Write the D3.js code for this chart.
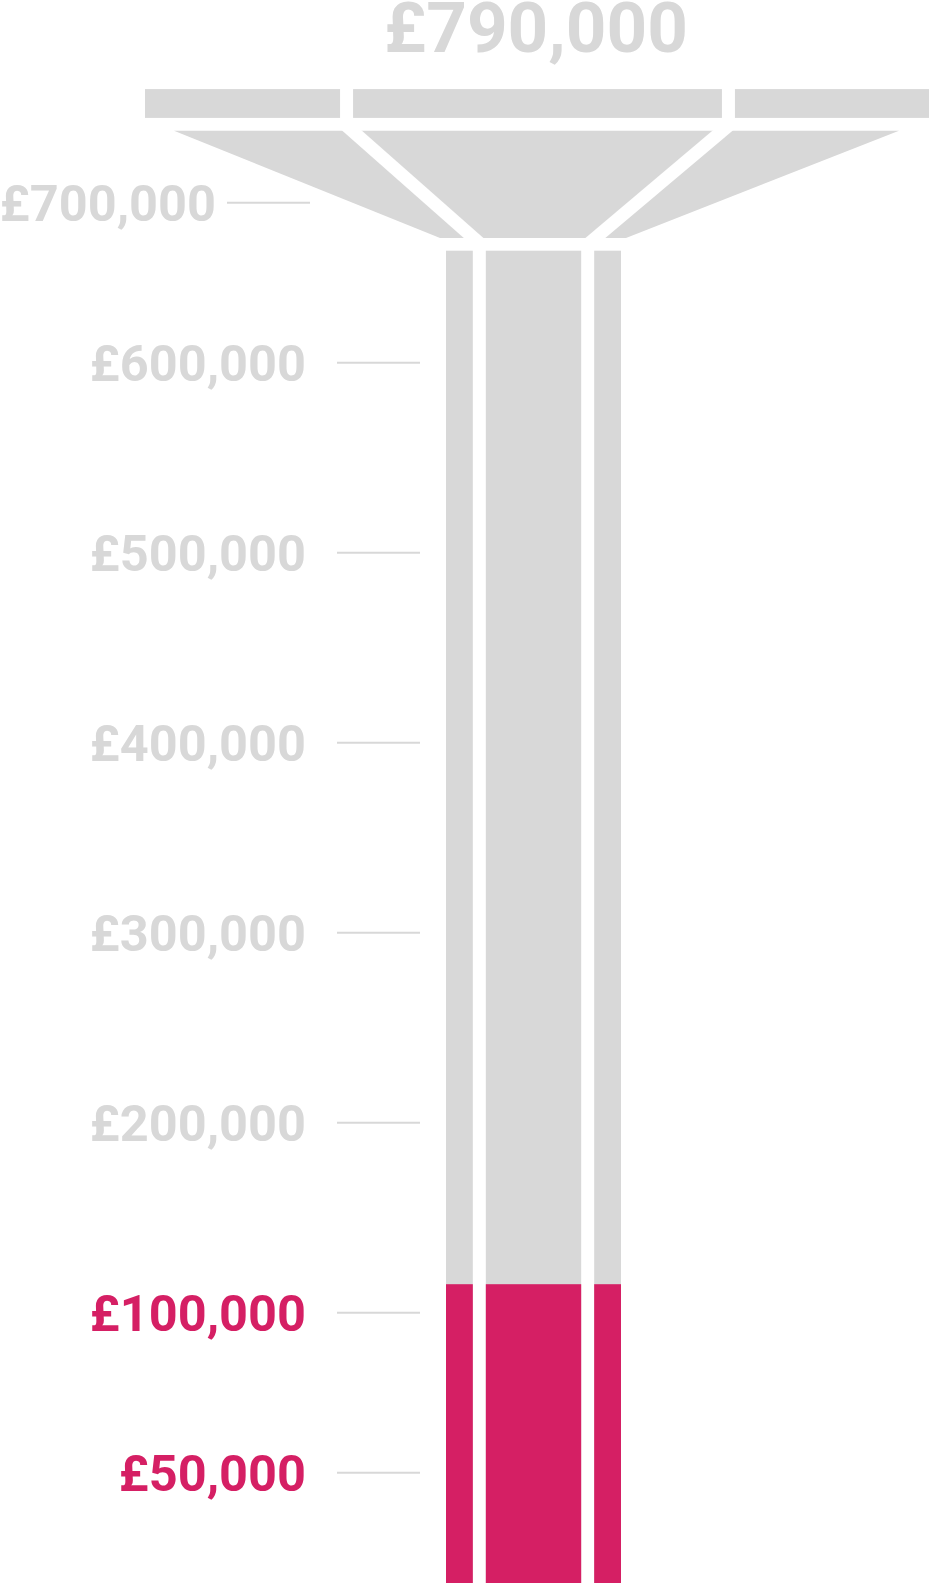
<!DOCTYPE html>
<html>
<head>
<meta charset="utf-8">
<script src="https://cdn.jsdelivr.net/npm/d3@7"></script>
<style>
  html, body { margin: 0; padding: 0; background: #ffffff; }
  svg { display: block; }
  text { font-family: Roboto, "Liberation Sans", sans-serif; font-weight: 700; }
</style>
</head>
<body>
<script>
// ---- data ----
const totalValue = 790000;
const totalLabel = "£790,000";
const tickValues = [50000, 100000, 200000, 300000, 400000, 500000, 600000, 700000];
const tickLabels = ["£50,000", "£100,000", "£200,000", "£300,000", "£400,000", "£500,000", "£600,000", "£700,000"];
const highlightedTicks = [50000, 100000];
const segments = ["left", "centre", "right"];
const columnValue = 670000;      // grey column top
const highlightValue = 115000;   // pink fill top
const funnelBottomValue = 678000;
const funnelTopValue = 745000;
const headBottomValue = 753000;
const headTopValue = 771000;
const columnShares = [0.18, 0.64, 0.18];
const funnelTopShares = [0.2455, 0.511, 0.2435];
const funnelBottomShares = [0.18, 0.656, 0.164];
const headShares = [0.257, 0.486, 0.257];

// ---- layout ----
const W = 929, H = 1583;
const grey = "#d8d8d8", pink = "#d51f64", gap = 13;

const svg = d3.select("body").append("svg").attr("width", W).attr("height", H);

const y = d3.scaleLinear()
  .domain([50000, 100000, 600000, 700000])
  .range([1472.7, 1312.7, 362.7, 202.7]);

function splitRange(x0, x1, shares, g) {
  const avail = x1 - x0 - g * (shares.length - 1);
  const sum = d3.sum(shares);
  const out = [];
  let cur = x0;
  shares.forEach(s => { const w = avail * s / sum; out.push([cur, cur + w]); cur += w + g; });
  return out;
}

// head bars
const head = splitRange(145, W + 1, headShares, gap);
svg.append("g").selectAll("rect").data(segments).join("rect")
  .attr("x", (d, i) => head[i][0])
  .attr("width", (d, i) => head[i][1] - head[i][0])
  .attr("y", y(headTopValue))
  .attr("height", y(headBottomValue) - y(headTopValue))
  .attr("fill", grey);

// funnel
const fTop = d3.scaleLinear().domain([0, 1]).range([174, 899]);
const fBot = d3.scaleLinear().domain([0, 1]).range([440, 626]);
const yFT = y(funnelTopValue), yFB = y(funnelBottomValue);
svg.append("path")
  .attr("d", d3.line()([[fTop(0), yFT], [fTop(1), yFT], [fBot(1), yFB], [fBot(0), yFB]]) + "Z")
  .attr("fill", grey);
const cumTop = d3.cumsum(funnelTopShares), cumBot = d3.cumsum(funnelBottomShares);
[0, 1].forEach(i => {
  const x1 = fTop(cumTop[i]), x2 = fBot(cumBot[i]);
  const dx = x2 - x1, dy = yFB - yFT, ext = 8 / dy;
  svg.append("line")
    .attr("x1", x1 - dx * ext).attr("y1", yFT - dy * ext)
    .attr("x2", x2 + dx * ext).attr("y2", yFB + dy * ext)
    .attr("stroke", "#ffffff").attr("stroke-width", gap);
});

// columns
const cols = splitRange(446, 621, columnShares, gap);
const colG = svg.append("g");
colG.selectAll("rect.grey").data(segments).join("rect").attr("class", "grey")
  .attr("x", (d, i) => cols[i][0]).attr("width", (d, i) => cols[i][1] - cols[i][0])
  .attr("y", y(columnValue)).attr("height", y(0) - y(columnValue))
  .attr("fill", grey);
colG.selectAll("rect.pink").data(segments).join("rect").attr("class", "pink")
  .attr("x", (d, i) => cols[i][0]).attr("width", (d, i) => cols[i][1] - cols[i][0])
  .attr("y", y(highlightValue)).attr("height", y(0) - y(highlightValue))
  .attr("fill", pink);

// ticks
const tickG = svg.append("g");
tickValues.forEach((v, i) => {
  const shifted = v >= funnelBottomValue;
  const lx0 = shifted ? 227 : 337, lx1 = shifted ? 310 : 420;
  const tx = shifted ? 216 : 306;
  const col = highlightedTicks.includes(v) ? pink : grey;
  tickG.append("line")
    .attr("x1", lx0).attr("x2", lx1).attr("y1", y(v)).attr("y2", y(v))
    .attr("stroke", grey).attr("stroke-width", 2);
  tickG.append("text")
    .attr("x", tx).attr("y", y(v) + 17.8)
    .attr("text-anchor", "end").attr("font-size", 50.5)
    .attr("fill", col).text(tickLabels[i]);
});

// total label
svg.append("text")
  .attr("x", 536).attr("y", 52)
  .attr("text-anchor", "middle").attr("font-size", 71)
  .attr("fill", grey).text(totalLabel);
</script>
</body>
</html>
